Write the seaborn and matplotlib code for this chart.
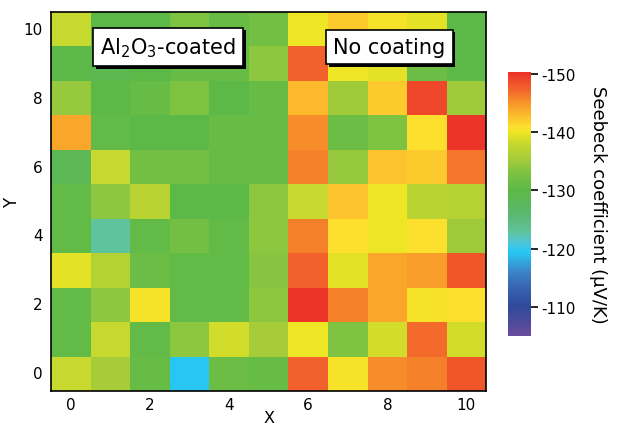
import numpy as np
import pandas as pd
import matplotlib
matplotlib.use("Agg")
import matplotlib.pyplot as plt
import matplotlib.patheffects as pe
from matplotlib.colors import LinearSegmentedColormap
import seaborn as sns

# -----------------------------------
# Data (Seebeck coefficient, uV/K)
# -----------------------------------
x_vals = list(range(11))
y_vals = list(range(10, -1, -1))   # rows top -> bottom

row_y10 = [-138, -130, -130, -133, -131, -132, -140, -142, -140.5, -139.5, -130]
row_y9 = [-130, -129, -130, -131, -131, -134, -147.5, -140, -139.5, -131.5, -130]
row_y8 = [-134.5, -130, -131, -133, -130, -131, -143, -135, -142, -149, -135]
row_y7 = [-144, -130.5, -130, -130, -131, -131, -145.5, -131.5, -133, -141, -150]
row_y6 = [-128.5, -138, -132, -132, -131, -131, -146, -134.5, -142.5, -142, -146.5]
row_y5 = [-130.5, -134, -137, -130, -130, -134, -138, -142.5, -140, -137, -136.5]
row_y4 = [-130.5, -123, -130.5, -132, -130.5, -134, -146, -141, -140, -141, -135]
row_y3 = [-139.5, -136.5, -131.5, -130.5, -130.5, -133.5, -147.5, -139.5, -144, -144.5, -148]
row_y2 = [-130.5, -134, -140.5, -130.5, -130.5, -134, -150, -146, -144, -140.5, -141]
row_y1 = [-130.5, -138, -130.5, -134, -138.5, -135.5, -140, -133, -138.5, -147, -138.5]
row_y0 = [-138, -135.5, -131, -119.5, -131.5, -131, -147.5, -140.5, -145.5, -146, -148]

rows = [row_y10, row_y9, row_y8, row_y7, row_y6, row_y5,
        row_y4, row_y3, row_y2, row_y1, row_y0]
df = pd.DataFrame(rows, index=y_vals, columns=x_vals)

cbar_ticks = [-150, -140, -130, -120, -110]
vmin, vmax = -150.3, -105.0

# -----------------------------------
# Colormap (red at -150 -> purple at -105)
# -----------------------------------
nodes = [
    (-150.3, "#ec3129"), (-147.5, "#f2622b"), (-145, "#f7962a"),
    (-143, "#fbb92b"), (-141, "#fde12e"), (-140, "#eee624"),
    (-138, "#c6d82e"), (-135, "#9fcb3b"), (-133, "#7dc242"),
    (-130, "#5cb947"), (-126, "#5bb86e"), (-123, "#5fc39c"),
    (-121, "#4fc6d6"), (-119.5, "#27c8f4"), (-116, "#3a86c8"),
    (-113, "#3860ad"), (-110, "#2e4a9a"), (-105, "#6a4c9c"),
]
cmap = LinearSegmentedColormap.from_list(
    "seebeck", [((v - vmin) / (vmax - vmin), c) for v, c in nodes])

# -----------------------------------
# Figure
# -----------------------------------
sns.set_theme(style="white", rc={"text.color": "black",
                                 "axes.labelcolor": "black",
                                 "xtick.color": "black",
                                 "ytick.color": "black"})
plt.rcParams['font.family'] = ['DejaVu Sans']
plt.rcParams['mathtext.default'] = 'regular'

fig = plt.figure(figsize=(6.17, 4.31), dpi=100)
ax = fig.add_axes([0.083, 0.0905, 0.705, 0.8795])
cax = fig.add_axes([0.823, 0.218, 0.037, 0.6125])

sns.heatmap(df, ax=ax, cbar_ax=cax, cmap=cmap, vmin=vmin, vmax=vmax,
            linewidths=0, square=False)

# axes frame and ticks
for s in ax.spines.values():
    s.set_visible(True)
    s.set_color("black")
    s.set_linewidth(1.2)

xt = [0, 2, 4, 6, 8, 10]
ax.set_xticks([x + 0.5 for x in xt])
ax.set_xticklabels([str(x) for x in xt], rotation=0, fontsize=11)
ax.set_yticks([(10 - y) + 0.5 for y in xt])
ax.set_yticklabels([str(y) for y in xt], rotation=0, fontsize=11)
ax.tick_params(axis="both", direction="in", length=7, width=1.2,
               color="black", bottom=True, left=True, pad=6)
ax.tick_params(axis="x", pad=4)
ax.set_xlabel("X", fontsize=11.5, labelpad=-1)
ax.set_ylabel("Y", fontsize=12, labelpad=2)

# region labels with shadowed boxes
for label, xf in [("Al$_2$O$_3$-coated", 0.269), ("No coating", 0.777)]:
    t = ax.text(xf, 0.908, label, transform=ax.transAxes, fontsize=15,
                ha="center", va="center", color="black",
                bbox=dict(boxstyle="square,pad=0.35", fc="white",
                          ec="black", lw=1.2))
    t.get_bbox_patch().set_path_effects([
        pe.SimplePatchShadow(offset=(2, -2), shadow_rgbFace="black", alpha=1),
        pe.Normal()])

# colorbar
cax.invert_yaxis()
cax.set_yticks(cbar_ticks)
cax.set_yticklabels([str(v) for v in cbar_ticks], fontsize=11)
cax.tick_params(axis="y", direction="out", length=5, width=1.2,
                color="black", right=True, pad=3)
cax.set_ylabel("Seebeck coefficient (\u00b5V/K)", fontsize=13,
               rotation=270, labelpad=22)
for s in cax.spines.values():
    s.set_visible(False)

fig.savefig("out.png", dpi=100)
plt.close(fig)
